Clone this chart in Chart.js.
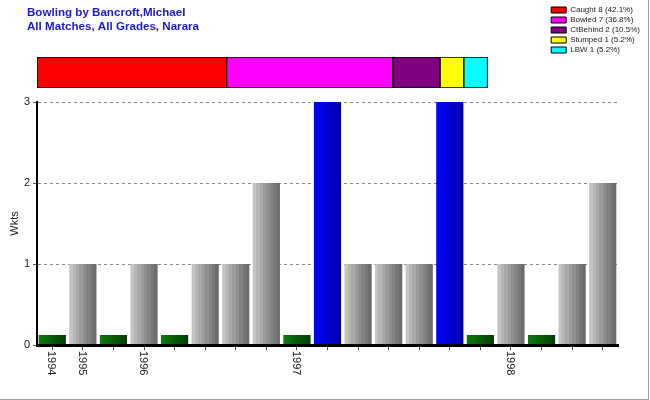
<!DOCTYPE html>
<html>
<head>
<meta charset="utf-8">
<title>Bowling by Bancroft,Michael</title>
<script src="https://cdn.jsdelivr.net/npm/chart.js@4/dist/chart.umd.min.js"></script>
<style>
  body { margin: 0; background: #fff; }
  #wrap { position: relative; width: 650px; height: 400px; }
  #wrap canvas { position: absolute; left: 0; top: 0; }
  #frame { position: absolute; left: 0; top: 0; width: 648px; height: 399px;
           border-right: 1px solid #a0a0a0; border-bottom: 1px solid #a0a0a0; }
</style>
</head>
<body>
<div id="wrap">
  <canvas id="main" width="650" height="400"></canvas>
  <canvas id="strip" width="650" height="95"></canvas>
  <div id="frame"></div>
</div>
<script>
// one slot per innings, year written under the first innings of that year
var inningsLabels = ['1994', '1995', '', '1996', '', '', '', '', '1997', '', '',
                     '', '', '', '', '1998', '', '', ''];
var wickets = [0, 1, 0, 1, 0, 1, 1, 2, 0, 3, 1, 1, 1, 3, 0, 1, 0, 1, 2];
var yTicks = [0, 1, 2, 3];

var dismissalNames = ['Caught', 'Bowled', 'CtBehind', 'Stumped', 'LBW'];
var dismissalCounts = [8, 7, 2, 1, 1];
var dismissalPct = [42.1, 36.8, 10.5, 5.2, 5.2];

var dismissalColors = ['#ff0000', '#ff00ff', '#800080', '#ffff00', '#00ffff'];
var BAR_PCT = 0.89;
var grayBands = ['#c4c4c4', '#b6b6b6', '#a9a9a9', '#9c9c9c', '#8f8f8f', '#838383', '#777777', '#6c6c6c'];

Chart.defaults.font.family = 'Arial, "Liberation Sans", sans-serif';
Chart.defaults.animation = false;

// fill each bar with a left-to-right shade like the original
function barFill(c) {
  var chart = c.chart;
  var xs = chart.scales.x;
  if (c.type !== 'data' || !xs) return '#999';
  var v = wickets[c.dataIndex];
  var max = Math.max.apply(null, wickets);
  var cx = xs.getPixelForValue(c.dataIndex);
  var half = xs.width / wickets.length * BAR_PCT / 2;
  if (!isFinite(cx) || !isFinite(half) || half <= 0) return '#999';
  var g = chart.ctx.createLinearGradient(cx - half, 0, cx + half, 0);
  if (v === 0) {
    g.addColorStop(0, '#0c7c0c');
    g.addColorStop(1, '#033c03');
  } else if (v === max) {
    g.addColorStop(0, '#0000ff');
    g.addColorStop(1, '#0000a8');
  } else {
    for (var i = 0; i < grayBands.length; i++) {
      g.addColorStop(i / grayBands.length, grayBands[i]);
      g.addColorStop((i + 1) / grayBands.length, grayBands[i]);
    }
  }
  return g;
}

// year labels, turned to read top to bottom
var yearLabels = {
  id: 'yearLabels',
  afterDraw: function(chart) {
    var xs = chart.scales.x;
    var ctx = chart.ctx;
    ctx.save();
    ctx.font = '11px Arial, "Liberation Sans", sans-serif';
    ctx.fillStyle = '#222';
    ctx.textAlign = 'left';
    ctx.textBaseline = 'middle';
    chart.data.labels.forEach(function(lab, i) {
      if (!lab) return;
      ctx.save();
      ctx.translate(xs.getPixelForValue(i) - 1, xs.top + 6);
      ctx.rotate(Math.PI / 2);
      ctx.fillText(lab, 0, 0);
      ctx.restore();
    });
    ctx.restore();
  }
};

new Chart(document.getElementById('main'), {
  type: 'bar',
  data: {
    labels: inningsLabels,
    datasets: [{
      label: 'Wkts',
      data: wickets,
      backgroundColor: barFill,
      borderWidth: 0,
      minBarLength: 10,
      barPercentage: BAR_PCT,
      categoryPercentage: 1
    }]
  },
  options: {
    responsive: false,
    layout: { padding: { left: 0, right: 32, top: 102, bottom: 0 } },
    plugins: { legend: { display: false }, tooltip: { enabled: false } },
    scales: {
      x: {
        grid: { drawOnChartArea: false, offset: false, tickLength: 5, tickColor: '#444' },
        border: { color: '#000', width: 3, z: 1 },
        ticks: { display: false },
        afterFit: function(s) { s.height = 55; }
      },
      y: {
        min: 0,
        max: 3,
        afterBuildTicks: function(s) { s.ticks = yTicks.map(function(v) { return { value: v }; }); },
        ticks: { color: '#222', font: { size: 11 }, padding: 3 },
        grid: { color: '#8a8a8a', tickLength: 4, tickColor: '#555' },
        border: { color: '#000', width: 2, dash: [3, 3] },
        title: { display: true, text: 'Wkts', color: '#222', font: { size: 11 }, padding: { top: 8, bottom: 0 } },
        afterFit: function(s) { s.width = 37; }
      }
    }
  },
  plugins: [yearLabels]
});

// dismissal strip with its legend and the page title
new Chart(document.getElementById('strip'), {
  type: 'bar',
  data: {
    labels: ['Dismissals'],
    datasets: dismissalNames.map(function(n, i) {
      return {
        label: n + ' ' + dismissalCounts[i] + ' (' + dismissalPct[i].toFixed(1) + '%)',
        data: [dismissalCounts[i]],
        backgroundColor: dismissalColors[i],
        borderColor: '#000',
        borderWidth: 1,
        borderSkipped: false,
        barPercentage: 1,
        categoryPercentage: 1
      };
    })
  },
  options: {
    responsive: false,
    indexAxis: 'y',
    layout: { padding: { left: 27, right: 0, top: 4, bottom: 7 } },
    plugins: {
      tooltip: { enabled: false },
      title: {
        display: true,
        align: 'start',
        text: ['Bowling by Bancroft,Michael', 'All Matches, All Grades, Narara'],
        color: '#1a1ad0',
        font: { size: 11.6, weight: 'bold', lineHeight: 1.24 },
        padding: { top: 1.5, bottom: 22.7 }
      },
      legend: {
        position: 'right',
        align: 'start',
        labels: { boxWidth: 15, boxHeight: 6, padding: 2, color: '#222', font: { size: 8 } }
      }
    },
    scales: {
      x: { stacked: true, display: false, min: 0, max: 21.6 },
      y: {
        stacked: true,
        ticks: { display: false },
        grid: { display: false },
        border: { display: false },
        afterFit: function(s) { s.width = 10; }
      }
    }
  }
});
</script>
</body>
</html>
